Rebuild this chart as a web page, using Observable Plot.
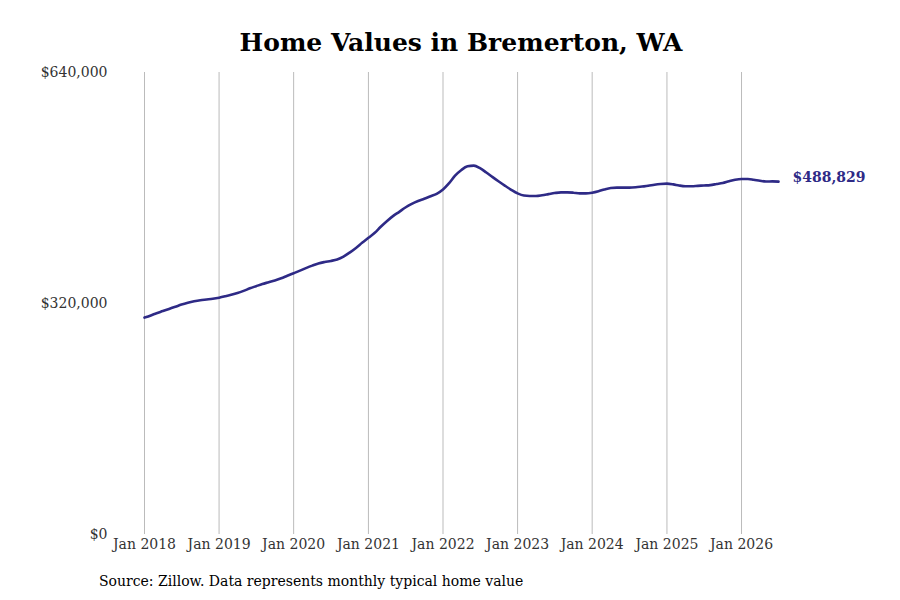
<!DOCTYPE html>
<html>
<head>
<meta charset="utf-8">
<script src="https://cdn.jsdelivr.net/npm/d3@7"></script>
<script src="https://cdn.jsdelivr.net/npm/@observablehq/plot@0.6"></script>
<style>
  html, body { margin: 0; padding: 0; background: #fff; }
  #wrap { position: relative; width: 900px; height: 600px; font-family: "DejaVu Serif", serif; }
  #title { position: absolute; left: 0; width: 922px; top: 28px; text-align: center; font-family: "DejaVu Serif", serif; font-size: 25px; font-weight: bold; color: #000; }
  #chart { position: absolute; left: 0; top: 60px; }
  #caption { position: absolute; left: 99px; top: 573px; font-family: "DejaVu Serif", serif; font-size: 14px; color: #000; }
</style>
</head>
<body>
<div id="wrap">
  <div id="title">Home Values in Bremerton, WA</div>
  <div id="chart"></div>
  <div id="caption">Source: Zillow. Data represents monthly typical home value</div>
</div>
<script>
const startMonth = "2018-01";
const values = [
  // 2018
  300500, 303500, 306500, 309500, 312500, 315500, 318500, 321000, 323000, 324500, 325500, 326500,
  // 2019
  328000, 330000, 332000, 334500, 337500, 341000, 344000, 347000, 349500, 352000, 355000, 358500,
  // 2020
  362000, 365500, 369000, 372500, 375500, 377500, 379000, 381000, 385000, 390500, 397000, 404000,
  // 2021
  411000, 418000, 426000, 434000, 441000, 447000, 453000, 458000, 462000, 465000, 468500, 472000,
  // 2022
  478000, 487000, 497000, 505000, 510000, 511000, 507500, 501500, 495000, 489000, 483000, 477500,
  // 2023
  472500, 469500, 469000, 469000, 470000, 471500, 473000, 474000, 474000, 473500, 472500, 472500,
  // 2024
  473500, 475500, 478000, 480000, 480500, 480500, 480500, 481000, 482000, 483000, 484500, 485500,
  // 2025
  486000, 485000, 483500, 482500, 482500, 483000, 483500, 484000, 485500, 487000, 489500, 491500,
  // 2026
  492500, 492500, 491500, 490000, 489000, 489200, 488829
];
const yTicks = [0, 320000, 640000];
const xTickYears = [2018, 2019, 2020, 2021, 2022, 2023, 2024, 2025, 2026];
const endLabel = "$488,829";

const [sy, sm] = startMonth.split("-").map(Number);
const data = values.map((v, i) => ({ date: new Date(Date.UTC(sy, sm - 1 + i, 1)), value: v }));
const tickDates = xTickYears.map(y => new Date(Date.UTC(y, 0, 1)));
const last = data[data.length - 1];
const lineColor = "#2e2a86";
const fmtMonth = d3.utcFormat("%b %Y");
const fmtUSD = d => "$" + d3.format(",")(d);

const chart = Plot.plot({
  width: 900,
  height: 510,
  marginLeft: 144,
  marginRight: 122,
  marginTop: 12,
  marginBottom: 36,
  style: { fontFamily: "DejaVu Serif, serif", fontSize: "14px", color: "#333", background: "transparent" },
  x: { type: "utc", domain: [data[0].date, last.date] },
  y: { domain: [0, 640000] },
  marks: [
    Plot.ruleX(tickDates, { x: d => d, y1: 0, y2: 640000, stroke: "#bbb", strokeWidth: 1 }),
    Plot.axisX(tickDates, { tickSize: 0, tickPadding: 5, tickFormat: fmtMonth, label: null, fontSize: 14, fill: "#333" }),
    Plot.axisY(yTicks, { tickSize: 0, tickPadding: 37, tickFormat: fmtUSD, label: null, fontSize: 14, fill: "#333" }),
    Plot.line(data, { x: "date", y: "value", stroke: lineColor, strokeWidth: 2.6, curve: "monotone-x" }),
    Plot.text([last], { x: "date", y: "value", text: () => endLabel, dx: 14, dy: -4, textAnchor: "start", fill: lineColor, fontWeight: "bold", fontSize: 14 })
  ]
});
document.getElementById("chart").appendChild(chart);
</script>
</body>
</html>
